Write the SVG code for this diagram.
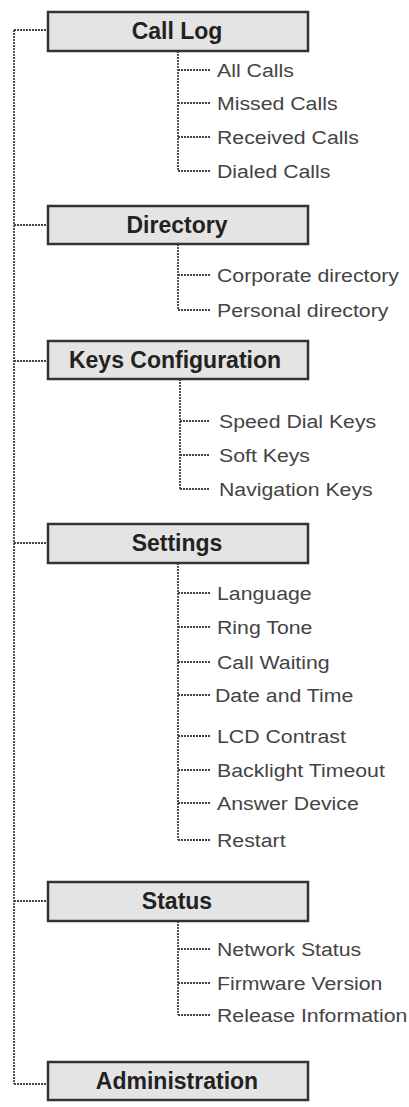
<svg xmlns="http://www.w3.org/2000/svg" width="409" height="1107" viewBox="0 0 409 1107">
<style>
.box{fill:#e4e4e4;stroke:#333;stroke-width:2.5}
.title{font-family:"Liberation Sans",Arial,sans-serif;font-weight:bold;font-size:23px;fill:#222;text-anchor:middle}
.item{font-family:"Liberation Sans",Arial,sans-serif;font-size:19px;fill:#444}
.conn{fill:none;stroke:#444;stroke-width:1.8;stroke-dasharray:2 1}
</style>
<rect width="409" height="1107" fill="#fff"/>
<g id="connectors" class="conn">
<path d="M14 30V1084M14 30H48M14 225H48M14 361H48M14 543H48M14 901H48M14 1084H48"/>
<path d="M178 51V171M178 70H210M178 103H210M178 137H210M178 171H210"/>
<path d="M178 244V310M178 275H210M178 310H210"/>
<path d="M180 379V489M180 421H210M180 455H210M180 489H210"/>
<path d="M178 563V840M178 593H210M178 627H210M178 662H210M178 695H210M178 736H210M178 770H210M178 803H210M178 840H210"/>
<path d="M178 921V1015M178 949H210M178 983H210M178 1015H210"/>
</g>
<g id="call-log"><rect class="box" x="48" y="12" width="260" height="39"/><text class="title" x="177" y="39">Call Log</text></g>
<g id="all-calls"><text class="item" transform="translate(217 77) scale(1.12 1)">All Calls</text></g>
<g id="missed-calls"><text class="item" transform="translate(217 110) scale(1.12 1)">Missed Calls</text></g>
<g id="received-calls"><text class="item" transform="translate(217 144) scale(1.12 1)">Received Calls</text></g>
<g id="dialed-calls"><text class="item" transform="translate(217 178) scale(1.12 1)">Dialed Calls</text></g>
<g id="directory"><rect class="box" x="48" y="206" width="260" height="38"/><text class="title" x="177" y="233">Directory</text></g>
<g id="corporate-directory"><text class="item" transform="translate(217 282) scale(1.12 1)">Corporate directory</text></g>
<g id="personal-directory"><text class="item" transform="translate(217 317) scale(1.12 1)">Personal directory</text></g>
<g id="keys-configuration"><rect class="box" x="48" y="341" width="260" height="38"/><text class="title" x="175" y="368">Keys Configuration</text></g>
<g id="speed-dial-keys"><text class="item" transform="translate(219 428) scale(1.12 1)">Speed Dial Keys</text></g>
<g id="soft-keys"><text class="item" transform="translate(219 462) scale(1.12 1)">Soft Keys</text></g>
<g id="navigation-keys"><text class="item" transform="translate(219 496) scale(1.12 1)">Navigation Keys</text></g>
<g id="settings"><rect class="box" x="48" y="524" width="260" height="39"/><text class="title" x="177" y="551">Settings</text></g>
<g id="language"><text class="item" transform="translate(217 600) scale(1.12 1)">Language</text></g>
<g id="ring-tone"><text class="item" transform="translate(217 634) scale(1.12 1)">Ring Tone</text></g>
<g id="call-waiting"><text class="item" transform="translate(217 669) scale(1.12 1)">Call Waiting</text></g>
<g id="date-and-time"><text class="item" transform="translate(215 702) scale(1.12 1)">Date and Time</text></g>
<g id="lcd-contrast"><text class="item" transform="translate(217 743) scale(1.12 1)">LCD Contrast</text></g>
<g id="backlight-timeout"><text class="item" transform="translate(217 777) scale(1.12 1)">Backlight Timeout</text></g>
<g id="answer-device"><text class="item" transform="translate(217 810) scale(1.12 1)">Answer Device</text></g>
<g id="restart"><text class="item" transform="translate(217 847) scale(1.12 1)">Restart</text></g>
<g id="status"><rect class="box" x="48" y="882" width="260" height="39"/><text class="title" x="177" y="909">Status</text></g>
<g id="network-status"><text class="item" transform="translate(217 956) scale(1.12 1)">Network Status</text></g>
<g id="firmware-version"><text class="item" transform="translate(217 990) scale(1.12 1)">Firmware Version</text></g>
<g id="release-information"><text class="item" transform="translate(217 1022) scale(1.12 1)">Release Information</text></g>
<g id="administration"><rect class="box" x="48" y="1062" width="260" height="38"/><text class="title" x="177" y="1089">Administration</text></g>
</svg>
